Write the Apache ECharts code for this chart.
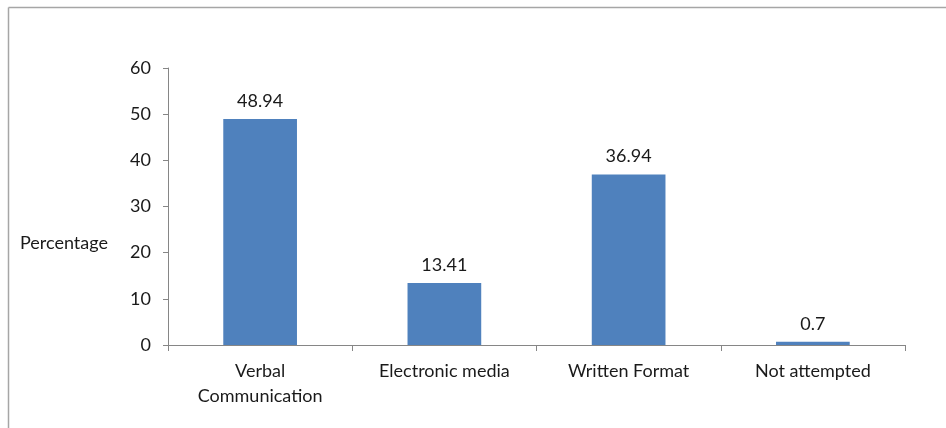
<!DOCTYPE html>
<html>
<head>
<meta charset="utf-8">
<script src="https://cdn.jsdelivr.net/npm/echarts@6/dist/echarts.min.js"></script>
<style>
html,body{margin:0;padding:0;background:#fff;}
#c{width:946px;height:428px;}
</style>
</head>
<body>
<div id="c"></div>
<script>
var categories = ['Verbal\nCommunication', 'Electronic media', 'Written Format', 'Not attempted'];
var values = [48.94, 13.41, 36.94, 0.7];
var valueLabels = ['48.94', '13.41', '36.94', '0.7'];
var yTicks = [0, 10, 20, 30, 40, 50, 60];
var yTitle = 'Percentage';

var FONT = 'Lato';
var FS = 18;
var chart = echarts.init(document.getElementById('c'));
chart.setOption({
  animation: false,
  backgroundColor: '#fff',
  grid: {left: 168, right: 41, top: 68, bottom: 83},
  graphic: [
    {type: 'line', shape: {x1: 8.5, y1: 7.5, x2: 946, y2: 7.5}, style: {stroke: '#a6a6a6', lineWidth: 1.5}},
    {type: 'line', shape: {x1: 8.5, y1: 7.5, x2: 8.5, y2: 428}, style: {stroke: '#a6a6a6', lineWidth: 1.5}},
    {type: 'text', left: 20, top: 234, style: {text: yTitle, font: FS + 'px ' + FONT, fill: '#1a1a1a'}}
  ],
  xAxis: {
    type: 'category',
    data: categories,
    axisLine: {lineStyle: {color: '#868686', width: 1}},
    axisTick: {show: true, length: 6, lineStyle: {color: '#868686'}},
    axisLabel: {color: '#1a1a1a', fontFamily: FONT, fontSize: FS, margin: 14, lineHeight: 25, interval: 0}
  },
  yAxis: {
    type: 'value',
    min: yTicks[0], max: yTicks[yTicks.length - 1], interval: 10,
    axisLine: {show: true, lineStyle: {color: '#868686', width: 1}},
    axisTick: {show: true, length: 5, lineStyle: {color: '#868686'}},
    splitLine: {show: false},
    axisLabel: {color: '#1a1a1a', fontFamily: FONT, fontSize: FS, margin: 17}
  },
  series: [{
    type: 'bar',
    data: values,
    barWidth: '40%',
    itemStyle: {color: '#4F81BD'},
    label: {
      show: true, position: 'top', distance: 9,
      color: '#1a1a1a', fontFamily: FONT, fontSize: FS,
      formatter: function (p) { return valueLabels[p.dataIndex]; }
    }
  }]
});
</script>
</body>
</html>
